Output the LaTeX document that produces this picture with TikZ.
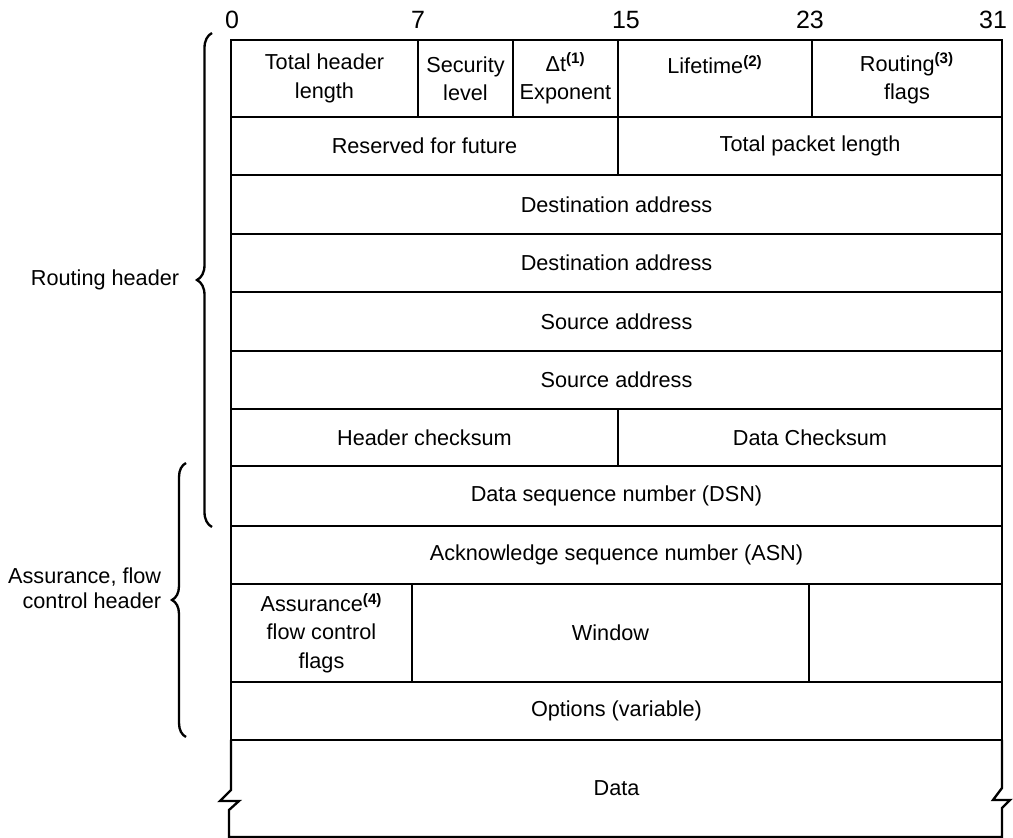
\documentclass[tikz,border=0pt]{standalone}
\usepackage{fontspec}
\setmainfont{Liberation Sans}
\usetikzlibrary{
  positioning,
  decorations.pathreplacing
}

\begin{document}
\begin{tikzpicture}[
  x=0.6pt,y=0.6pt,
  field/.style 2 args={draw,line width=1.4pt,inner sep=0pt,outer sep=0pt,anchor=north west,
    minimum width=#1*0.6pt,minimum height=#2*0.6pt,align=center,font=\fontsize{13}{17}\selectfont},
  bit/.style={font=\fontsize{15}{17}\selectfont},
  side/.style={align=right,anchor=east,font=\fontsize{13}{15}\selectfont},
  grp/.style={decorate,decoration={brace,amplitude=#1},line width=1.4pt}
]
\useasboundingbox (0,0) rectangle (1013,838);
\node[bit] (b0) at (232,818) {0};
\node[bit] (b7) at (418,818) {7};
\node[bit] (b15) at (626,818) {15};
\node[bit] (b23) at (810,818) {23};
\node[bit] (b31) at (993,818) {31};
\node[field={187}{77}] (hlen) at (231,798) {Total header\\length};
\node[field={95}{77}] (seclvl) at (418,798) {Security\\level};
\node[field={105}{77}] (dtexp) at (513,798) {Δt\textsuperscript{\bfseries(1)}\\Exponent};
\node[field={194}{77}] (life) at (618,798) {Lifetime\textsuperscript{\bfseries(2)}\\\mbox{}};
\node[field={190}{77}] (rflags) at (812,798) {Routing\textsuperscript{\bfseries(3)}\\flags};
\node[field={387}{58}] (resv) at (231,721) {Reserved for future};
\node[field={384}{58}] (plen) at (618,721) {Total packet length};
\node[field={771}{59}] (dst1) at (231,663) {Destination address};
\node[field={771}{58}] (dst2) at (231,604) {Destination address};
\node[field={771}{59}] (src1) at (231,546) {Source address};
\node[field={771}{58}] (src2) at (231,487) {Source address};
\node[field={387}{57}] (hcs) at (231,429) {Header checksum};
\node[field={384}{57}] (dcs) at (618,429) {Data Checksum};
\node[field={771}{60}] (dsn) at (231,372) {Data sequence number (DSN)};
\node[field={771}{58}] (asn) at (231,312) {Acknowledge sequence number (ASN)};
\node[field={181}{98}] (aflags) at (231,254) {Assurance\textsuperscript{\bfseries(4)}\\flow control\\flags};
\node[field={397}{98}] (win) at (412,254) {Window};
\node[field={193}{98}] (spare) at (809,254) {};
\node[field={771}{58}] (opts) at (231,156) {Options (variable)};
\node[field={771}{97},draw=none] (data) at (231,98) {Data};
\draw[line width=1.4pt] (data.north west) -- ++(0,-50) -- ++(-11,-11) -- ++(19,0) -- ++(-10,-9)
  |- (data.south east) -- ++(0,29) -- ++(8,8) -- ++(-17,0) -- ++(9,12) -- (data.north east);
\draw[grp=9pt] (212,311) -- (212,805);
\draw[grp=8.4pt] (186,101) -- (186,375);
\node[side] (rhdr) at (185,558) {Routing header};
\node[side] (ahdr) at (167,250) {Assurance, flow\\control header};
\end{tikzpicture}
\end{document}
